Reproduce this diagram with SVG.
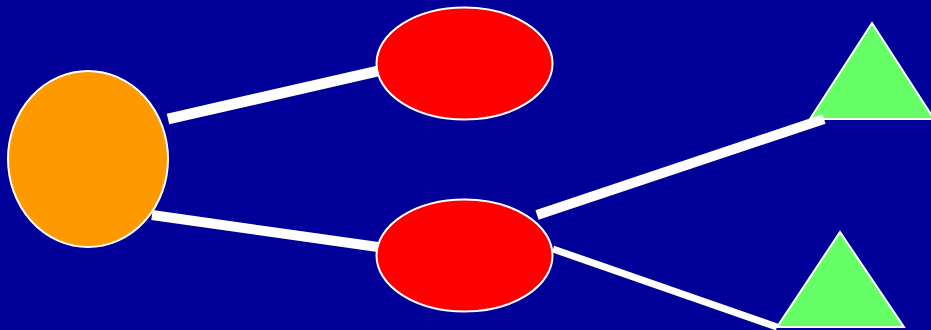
<svg xmlns="http://www.w3.org/2000/svg" width="931" height="330" viewBox="0 0 931 330">
<style>
.node{stroke:#ffffff;stroke-width:2}
.edge{stroke:#ffffff;fill:none;stroke-linecap:butt}
</style>
<rect x="0" y="0" width="931" height="330" fill="#000099"/>
<g id="root"><ellipse class="node" cx="88" cy="159" rx="80" ry="88" fill="#ff9900"/></g>
<g id="top"><ellipse class="node" cx="464.5" cy="63.5" rx="88" ry="56" fill="#ff0000"/></g>
<g id="bottom"><ellipse class="node" cx="464.5" cy="255.5" rx="88" ry="56" fill="#ff0000"/></g>
<g id="tri1"><polygon class="node" points="872,23 934,119 810,119" fill="#66ff66"/></g>
<g id="tri2"><polygon class="node" points="840,232 904,327 777,327" fill="#66ff66"/></g>
<g id="connectors">
<line class="edge" x1="168" y1="119" x2="378" y2="71" stroke-width="11"/>
<line class="edge" x1="152" y1="215" x2="378" y2="247" stroke-width="10"/>
<line class="edge" x1="537" y1="215" x2="824" y2="119" stroke-width="10"/>
<line class="edge" x1="553" y1="249" x2="777" y2="327" stroke-width="7"/>
</g>
</svg>
